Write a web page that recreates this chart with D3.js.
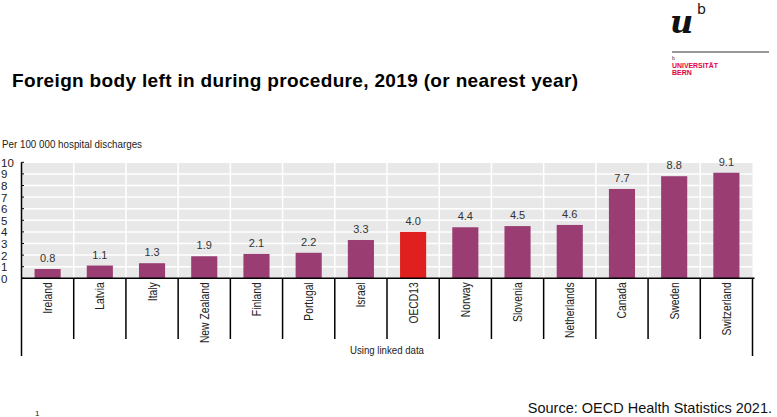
<!DOCTYPE html>
<html><head><meta charset="utf-8">
<script src="https://cdn.jsdelivr.net/npm/d3@7"></script>
<style>body{margin:0;background:#fff;}svg{display:block;font-family:Arial,"Liberation Sans",sans-serif;}</style>
</head><body>
<svg id="c" width="777" height="417"></svg>
<script>
const categories = ["Ireland","Latvia","Italy","New Zealand","Finland","Portugal","Israel","OECD13","Norway","Slovenia","Netherlands","Canada","Sweden","Switzerland"];
const values = [0.8,1.1,1.3,1.9,2.1,2.2,3.3,4.0,4.4,4.5,4.6,7.7,8.8,9.1];
const yTicks = [0,1,2,3,4,5,6,7,8,9,10];
const highlight = "OECD13";

(function(){
const svg = d3.select("#c");
const pL = 21.5, pR = 752.5, pT = 162.3, pB = 278.3;
const x = d3.scaleBand().domain(categories).range([pL, pR]).paddingInner(0).paddingOuter(0);
const y = d3.scaleLinear().domain([0,10]).range([pB, pT]);

// Title
svg.append("text").attr("x",12).attr("y",87).attr("font-size",19).attr("font-weight","bold").attr("fill","#000")
  .attr("textLength",566).attr("lengthAdjust","spacing")
  .text("Foreign body left in during procedure, 2019 (or nearest year)");
svg.append("text").attr("x",2).attr("y",148).attr("font-size",11).attr("fill","#222")
  .attr("textLength",140).attr("lengthAdjust","spacingAndGlyphs")
  .text("Per 100 000 hospital discharges");

// plot background
svg.append("rect").attr("x",pL).attr("y",pT).attr("width",pR-pL).attr("height",pB-pT).attr("fill","#e8e8e8");
// horizontal gridlines
svg.append("g").selectAll("line").data(yTicks.slice(1)).join("line")
  .attr("x1",pL).attr("x2",pR).attr("y1",d=>y(d)).attr("y2",d=>y(d)).attr("stroke","#fff").attr("stroke-width",1.5);
// vertical white separators
svg.append("g").selectAll("line").data(categories.slice(1)).join("line")
  .attr("x1",d=>x(d)).attr("x2",d=>x(d)).attr("y1",pT).attr("y2",pB).attr("stroke","#fff").attr("stroke-width",1.5);

// bars
const bw = x.bandwidth()*0.5;
svg.append("g").selectAll("rect").data(categories).join("rect")
  .attr("x",d=>x(d)+x.bandwidth()/2-bw/2).attr("width",bw)
  .attr("y",(d,i)=>y(values[i])).attr("height",(d,i)=>y(0)-y(values[i]))
  .attr("fill",d=>d===highlight?"#e0201f":"#993d72");
// value labels
svg.append("g").selectAll("text").data(categories).join("text")
  .attr("x",d=>x(d)+x.bandwidth()/2).attr("y",(d,i)=>y(values[i])-7)
  .attr("text-anchor","middle").attr("font-size",11).attr("fill","#333")
  .text((d,i)=>values[i].toFixed(1));

// y axis
const yAxis = d3.axisLeft(y).tickValues(yTicks).tickSize(0).tickPadding(10).tickFormat(d3.format("d"));
const ga = svg.append("g").attr("transform",`translate(${pL},0)`).call(yAxis);
ga.select(".domain").remove();
ga.selectAll("text").attr("font-size",11.5).attr("fill","#222").attr("text-anchor","start").attr("x",-pL+1).attr("dy","0.35em");
svg.append("g").selectAll("line").data(yTicks).join("line")
  .attr("x1",pL).attr("x2",pL+2.5).attr("y1",d=>y(d)).attr("y2",d=>y(d)).attr("stroke","#000").attr("stroke-width",1);
svg.append("line").attr("x1",pL).attr("x2",pL).attr("y1",pT).attr("y2",356).attr("stroke","#000").attr("stroke-width",1.5);
svg.append("line").attr("x1",pR).attr("x2",pR).attr("y1",pB).attr("y2",356).attr("stroke","#000").attr("stroke-width",1.5);
// x axis baseline
svg.append("line").attr("x1",pL).attr("x2",pR+2).attr("y1",pB).attr("y2",pB).attr("stroke","#000").attr("stroke-width",1.5);
// category separators below
svg.append("g").selectAll("line").data(categories.slice(1)).join("line")
  .attr("x1",d=>x(d)).attr("x2",d=>x(d)).attr("y1",pB).attr("y2",339).attr("stroke","#000").attr("stroke-width",1.5);
// category labels
svg.append("g").selectAll("text").data(categories).join("text")
  .attr("transform",d=>`translate(${x(d)+x.bandwidth()/2+4.5},${pB+4}) rotate(-90) scale(0.86,1)`)
  .attr("text-anchor","end").attr("font-size",12).attr("fill","#222")
  .text(d=>d);
svg.append("text").attr("x",387).attr("y",354).attr("text-anchor","middle").attr("font-size",11.5).attr("fill","#222")
  .attr("textLength",74).attr("lengthAdjust","spacingAndGlyphs")
  .text("Using linked data");

// footer
svg.append("text").attr("x",35).attr("y",416).attr("font-size",8).attr("fill","#222").text("1");
svg.append("text").attr("x",772).attr("y",413).attr("text-anchor","end").attr("font-size",14.5).attr("fill","#111").text("Source: OECD Health Statistics 2021.");

// logo
const lg = svg.append("g");
lg.append("text").attr("x",670).attr("y",33).attr("font-family","'DejaVu Serif','Liberation Serif',serif").attr("font-style","italic").attr("font-weight","bold").attr("font-size",32).attr("fill","#111").text("u");
lg.append("text").attr("x",697).attr("y",14).attr("font-family","'DejaVu Sans',sans-serif").attr("font-size",14).attr("fill","#111").text("b");
lg.append("line").attr("x1",672).attr("x2",769).attr("y1",52).attr("y2",52).attr("stroke","#333").attr("stroke-width",1.2);
lg.append("text").attr("x",672).attr("y",60).attr("font-size",5).attr("fill","#333").text("b");
lg.append("text").attr("x",672).attr("y",67.5).attr("font-size",7).attr("font-weight","bold").attr("fill","#e3003d")
  .attr("textLength",46).attr("lengthAdjust","spacingAndGlyphs").text("UNIVERSITÄT");
lg.append("text").attr("x",672).attr("y",75).attr("font-size",7).attr("font-weight","bold").attr("fill","#e3003d").text("BERN");
})();
</script>
</body></html>
